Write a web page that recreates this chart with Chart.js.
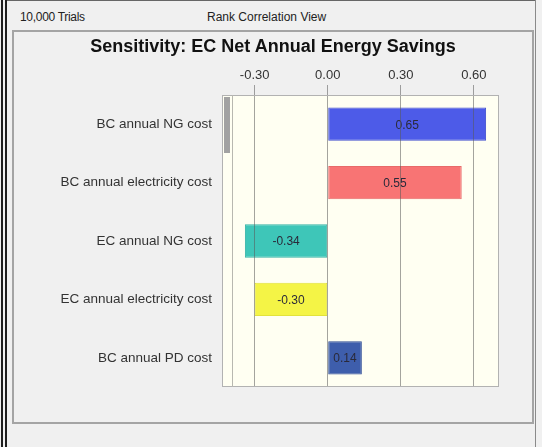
<!DOCTYPE html>
<html>
<head>
<meta charset="utf-8">
<script src="https://cdn.jsdelivr.net/npm/chart.js@4.4.1/dist/chart.umd.min.js"></script>
<style>
  body { margin: 0; width: 542px; height: 447px; background: #f0f0f0; position: relative; overflow: hidden;
         font-family: "Liberation Sans", Arial, sans-serif; }
  .edge { position: absolute; }
  #lineA { left: 1px; top: 0; width: 2px; height: 447px; background: #1e1e1e; }
  #lineB { left: 5px; top: 0; width: 2px; height: 447px; background: #1e1e1e; }
  #lineTop { left: 7px; top: 0; width: 529px; height: 1px; background: #666; }
  #lineRight { left: 535px; top: 0; width: 1px; height: 447px; background: #8a8a8a; }
  .hdr { position: absolute; top: 10px; font-size: 12px; color: #222; white-space: nowrap; }
  #trials { left: 20px; letter-spacing: -0.3px; }
  #view { left: 207px; }
  #panel { position: absolute; left: 12px; top: 30px; width: 518px; height: 390px;
           border: 2px solid #a4a4a4; background: #f0f0f0; }
  #title { position: absolute; left: 0; top: 3px; width: 518px; text-align: center;
           font-size: 18px; font-weight: bold; color: #111; line-height: 22px; }
  #wrap { position: absolute; left: 0; top: 0; width: 518px; height: 390px; }
</style>
</head>
<body>
<div class="edge" id="lineA"></div>
<div class="edge" id="lineB"></div>
<div class="edge" id="lineTop"></div>
<div class="edge" id="lineRight"></div>
<div class="hdr" id="trials">10,000 Trials</div>
<div class="hdr" id="view">Rank Correlation View</div>
<div id="panel">
  <div id="wrap"><canvas id="c"></canvas></div>
  <div id="title">Sensitivity: EC Net Annual Energy Savings</div>
</div>
<script>
// rank correlations, top to bottom
const categories = [
  'BC annual NG cost',
  'BC annual electricity cost',
  'EC annual NG cost',
  'EC annual electricity cost',
  'BC annual PD cost'
];
const correlations = [0.65, 0.55, -0.34, -0.30, 0.14];
const barColors = ['#4d5be8', '#f87474', '#3ec6b8', '#f4f446', '#3e5eac'];
const barBorders = ['#4451d0', '#e86a6a', '#36b3a6', '#e2e23c', '#2f4d96'];
const tickValues = [-0.30, 0.00, 0.30, 0.60];

// cream plot background, outline, fake scrollbar, value labels
const decor = {
  id: 'decor',
  beforeDraw(chart) {
    const { ctx, chartArea: a } = chart;
    ctx.save();
    ctx.fillStyle = '#fffff2';
    ctx.fillRect(a.left, a.top, a.right - a.left, a.bottom - a.top);
    ctx.restore();
  },
  afterDatasetsDraw(chart) {
    const { ctx } = chart;
    const meta = chart.getDatasetMeta(0);
    ctx.save();
    ctx.font = '12px "Liberation Sans", Arial, sans-serif';
    ctx.fillStyle = '#2a2a3a';
    ctx.textAlign = 'center';
    ctx.textBaseline = 'middle';
    meta.data.forEach((bar, i) => {
      const mid = (bar.x + bar.base) / 2;
      ctx.fillText(correlations[i].toFixed(2), mid, bar.y + 1);
    });
    ctx.restore();
  },
  afterDraw(chart) {
    const { ctx, chartArea: a } = chart;
    ctx.save();
    ctx.strokeStyle = '#b2b2b2';
    ctx.lineWidth = 1;
    ctx.strokeRect(a.left + 0.5, a.top + 0.5, a.right - a.left - 1, a.bottom - a.top - 1);
    // scrollbar track edge and thumb
    ctx.strokeStyle = '#b8b8b0';
    ctx.beginPath();
    ctx.moveTo(a.left + 10.5, a.top);
    ctx.lineTo(a.left + 10.5, a.bottom);
    ctx.stroke();
    ctx.fillStyle = '#a2a2a2';
    ctx.fillRect(a.left + 2, a.top + 2, 6, 56);
    ctx.restore();
  }
};

new Chart(document.getElementById('c'), {
  type: 'bar',
  data: {
    labels: categories,
    datasets: [{
      data: correlations,
      backgroundColor: barColors,
      borderColor: barBorders,
      borderWidth: 1,
      borderSkipped: false,
      barPercentage: 0.57,
      categoryPercentage: 1
    }]
  },
  options: {
    indexAxis: 'y',
    responsive: true,
    maintainAspectRatio: false,
    animation: false,
    layout: { padding: { top: 33, right: 33, bottom: 35, left: 0 } },
    plugins: {
      legend: { display: false },
      tooltip: { enabled: false },
      title: { display: false }
    },
    scales: {
      x: {
        position: 'top',
        min: -0.434,
        max: 0.703,
        afterBuildTicks: s => { s.ticks = tickValues.map(v => ({ value: v })); },
        afterFit: s => { s.height = 30; },
        ticks: {
          callback: v => Number(v).toFixed(2),
          color: '#333',
          font: { family: '"Liberation Sans", Arial, sans-serif', size: 13 },
          padding: 2,
          maxRotation: 0
        },
        grid: { color: 'rgba(90,90,90,0.55)', z: 1, tickLength: 10 },
        border: { display: false }
      },
      y: {
        afterFit: s => { s.width = 208; },
        ticks: {
          color: '#333',
          font: { family: '"Liberation Sans", Arial, sans-serif', size: 13.5 },
          padding: 10
        },
        grid: { display: false, drawTicks: false },
        border: { display: false }
      }
    }
  },
  plugins: [decor]
});
</script>
</body>
</html>
